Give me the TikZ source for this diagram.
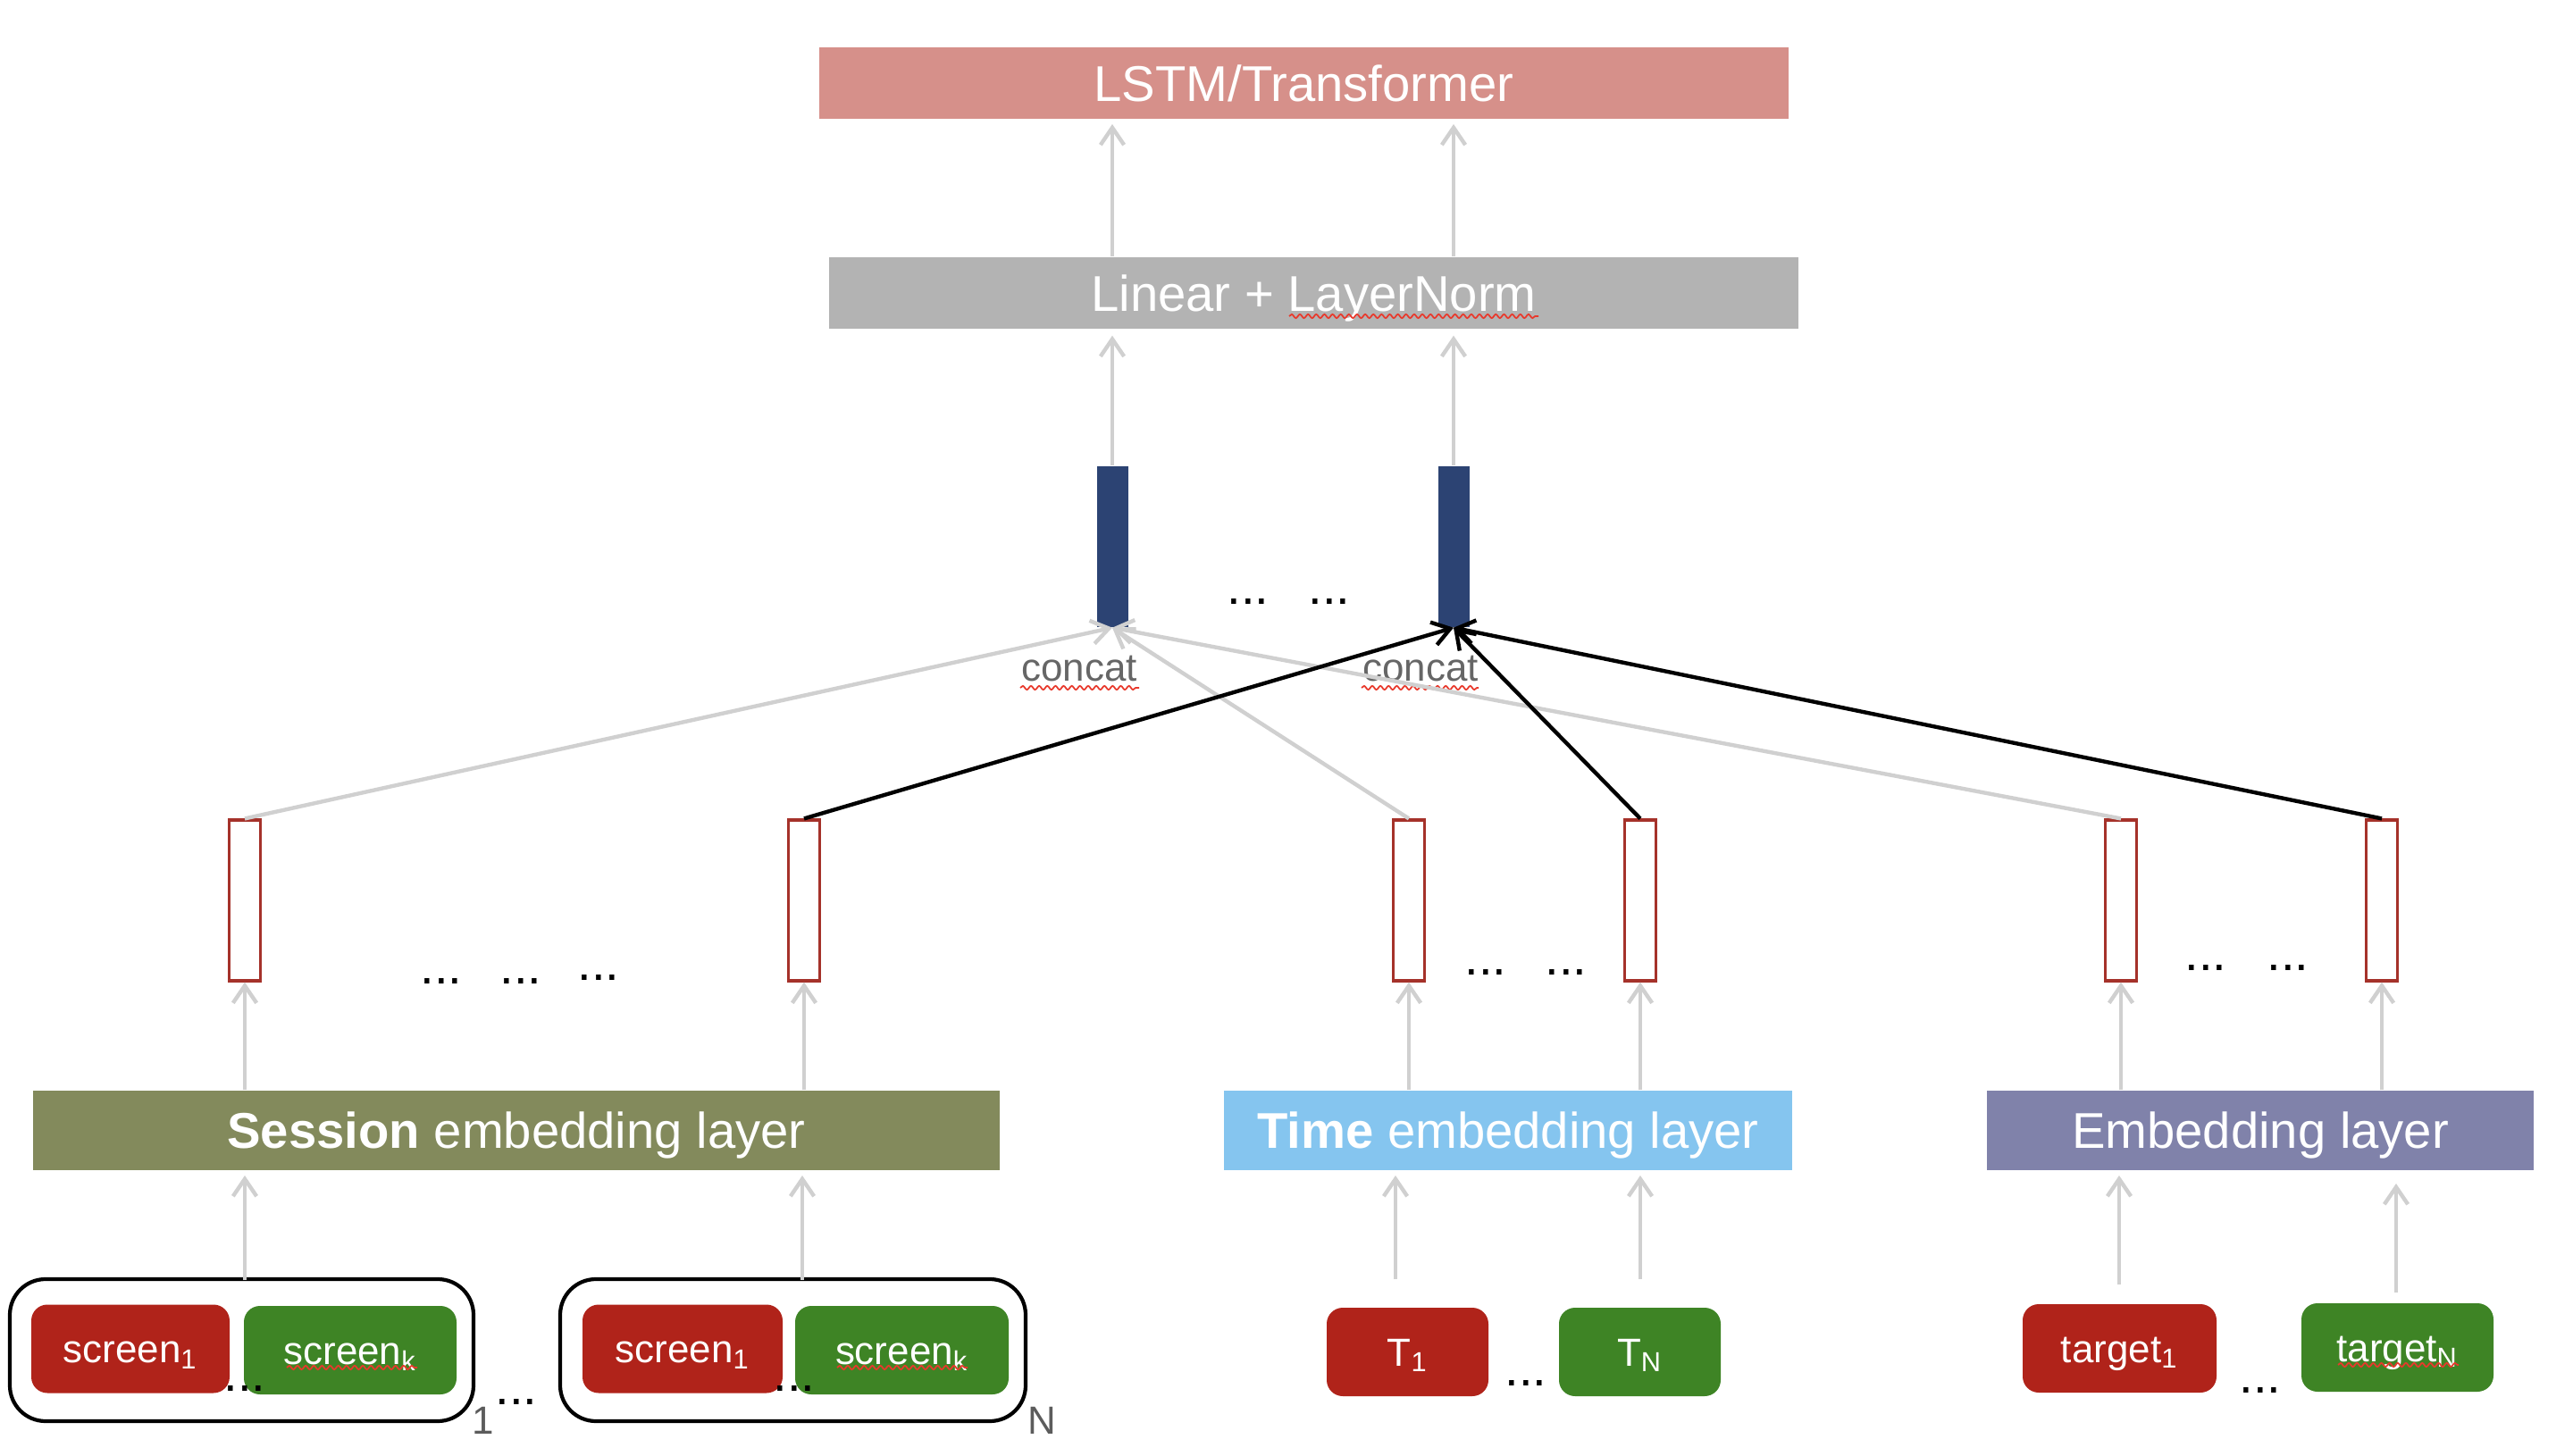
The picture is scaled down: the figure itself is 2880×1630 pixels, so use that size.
\documentclass[tikz,border=0pt]{standalone}
\usepackage{fontspec}
\setmainfont{Liberation Sans}
\usetikzlibrary{arrows.meta,decorations.pathmorphing}
\definecolor{lstmc}{HTML}{D6908A}
\definecolor{linc}{HTML}{B3B3B3}
\definecolor{navyc}{HTML}{2C4373}
\definecolor{rectc}{HTML}{A5322A}
\definecolor{sessc}{HTML}{838A5C}
\definecolor{timec}{HTML}{85C5EF}
\definecolor{embc}{HTML}{8082AA}
\definecolor{redc}{HTML}{B0231A}
\definecolor{greenc}{HTML}{3E8425}
\definecolor{arrg}{HTML}{D0D0D0}
\definecolor{txtg}{HTML}{666666}
\definecolor{squigc}{HTML}{E8392C}
\begin{document}
\begin{tikzpicture}[x=0.1mm,y=-0.1mm,
  blk/.style={inner sep=0pt, text=white, font=\fontsize{16}{19}\selectfont, text height=11.5pt, text depth=0pt},
  tok/.style={rounded corners=1.8mm, inner sep=0pt, text=white, font=\fontsize{12.5}{15}\selectfont, minimum height=9.9mm, text height=8.95pt, text depth=0pt},
  grp/.style={draw=black, line width=1.2pt, rounded corners=4mm, inner sep=0pt, minimum height=15.9mm},
  vecbox/.style={draw=rectc, line width=0.9pt, fill=white, minimum width=3.5mm, minimum height=18mm, inner sep=0pt},
  barbox/.style={fill=navyc, minimum width=3.5mm, minimum height=18mm, inner sep=0pt},
  garr/.style={draw=arrg, line width=1.25pt, -{Straight Barb[length=5.5pt,width=7.5pt]}},
  barr/.style={draw=black, line width=1.25pt, -{Straight Barb[length=5.5pt,width=7.5pt]}},
  dots/.style={anchor=base, inner sep=0pt, font=\fontsize{16}{19}\selectfont},
  glabel/.style={inner sep=0pt, text=txtg, font=\fontsize{12.5}{15}\selectfont},
  squig/.style={draw=squigc, line width=0.5pt, decorate, decoration={snake, segment length=2.6pt, amplitude=0.6pt}}
]
\useasboundingbox (0,0) rectangle (2880,1630);

% top blocks
\node[blk, fill=lstmc, minimum width=108.5mm, minimum height=8mm] (lstm) at (1459.5,93) {LSTM/Transformer};
\node[blk, fill=linc, minimum width=108.5mm, minimum height=8mm] (lin) at (1470.5,328) {Linear + LayerNorm};

% concat vectors
\node[barbox] (bar1) at (1245,612) {};
\node[barbox] (bar2) at (1627,612) {};

% embedding vectors
\node[vecbox] (r1) at (274,1008) {};
\node[vecbox] (r2) at (900,1008) {};
\node[vecbox] (r3) at (1577,1008) {};
\node[vecbox] (r4) at (1836,1008) {};
\node[vecbox] (r5) at (2374,1008) {};
\node[vecbox] (r6) at (2666,1008) {};

% layers
\node[blk, fill=sessc, minimum width=108.2mm, minimum height=8.9mm] (sess) at (578,1265.5) {\textbf{Session} embedding layer};
\node[blk, fill=timec, minimum width=63.6mm, minimum height=8.9mm] (time) at (1688,1265.5) {\textbf{Time} embedding layer};
\node[blk, fill=embc, minimum width=61.2mm, minimum height=8.9mm] (emb) at (2530,1265.5) {Embedding layer};

% input groups
\node[grp, minimum width=51.9mm] (grpA) at (270.5,1511.5) {};
\node[grp, minimum width=52.1mm] (grpB) at (887.5,1511.5) {};
\node[tok, fill=redc, minimum width=22.2mm] (sa1) at (146,1510) {screen\textsubscript{1}};
\node[tok, fill=greenc, minimum width=23.8mm] (sak) at (392,1511.5) {screen\textsubscript{k}};
\node[tok, fill=redc, minimum width=22.4mm] (sb1) at (764,1510) {screen\textsubscript{1}};
\node[tok, fill=greenc, minimum width=23.9mm] (sbk) at (1009.5,1511.5) {screen\textsubscript{k}};
\node[tok, fill=redc, minimum width=18.1mm] (t1) at (1575.5,1513.5) {T\textsubscript{1}};
\node[tok, fill=greenc, minimum width=18.1mm] (tn) at (1835.5,1513.5) {T\textsubscript{N}};
\node[tok, fill=redc, minimum width=21.7mm] (g1) at (2372.5,1509.5) {target\textsubscript{1}};
\node[tok, fill=greenc, minimum width=21.5mm] (gn) at (2683.5,1508.5) {target\textsubscript{N}};

% labels
\node[glabel] (cc1) at (1208,749) {concat};
\node[glabel] (cc2) at (1590,749) {concat};
\node[glabel, text=txtg!90!black] (lab1) at (541,1590) {1};
\node[glabel, text=txtg!90!black] (labN) at (1166,1590) {N};

% dots
\node[dots] (d1) at (1397,677) {...};
\node[dots] (d2) at (1488,677) {...};
\node[dots] (d3) at (494,1101) {...};
\node[dots] (d4) at (583,1101) {...};
\node[dots] (d5) at (670,1097) {...};
\node[dots] (d6) at (1663,1091) {...};
\node[dots] (d7) at (1753,1091) {...};
\node[dots] (d8) at (2469,1086) {...};
\node[dots] (d9) at (2561,1086) {...};
\node[dots] (d10) at (274,1557) {...};
\node[dots] (d11) at (889,1557) {...};
\node[dots] (d12) at (578,1572) {...};
\node[dots] (d13) at (1708,1551) {...};
\node[dots] (d14) at (2530,1559) {...};

% squiggly underlines
\draw[squig] (1443,354) -- (1722,354);
\draw[squig] (1142,770) -- (1275,770);
\draw[squig] (1524,770) -- (1655,770);
\draw[squig] (321,1531) -- (467,1531);
\draw[squig] (937,1531) -- (1083,1531);
\draw[squig] (2617,1528) -- (2752,1528);

% arrows to LSTM and Linear
\draw[garr, shorten >=1.5pt] (lin.north -| bar1) -- (lstm.south -| bar1);
\draw[garr, shorten >=1.5pt] (lin.north -| bar2) -- (lstm.south -| bar2);
\draw[garr, shorten >=2pt] (bar1.north) -- (lin.south -| bar1);
\draw[garr, shorten >=2pt] (bar2.north) -- (lin.south -| bar2);

% concat connectors
\draw[garr] (r1.north) -- (bar1.south);
\draw[garr] (r3.north) -- (bar1.south);
\draw[garr] (r5.north) -- (bar1.south);
\draw[barr] (r2.north) -- (bar2.south);
\draw[barr] (r4.north) -- (bar2.south);
\draw[barr] (r6.north) -- (bar2.south);

% layers to vectors
\draw[garr] (sess.north -| r1) -- (r1.south);
\draw[garr] (sess.north -| r2) -- (r2.south);
\draw[garr] (time.north -| r3) -- (r3.south);
\draw[garr] (time.north -| r4) -- (r4.south);
\draw[garr] (emb.north -| r5) -- (r5.south);
\draw[garr] (emb.north -| r6) -- (r6.south);

% inputs to layers
\coordinate (i1) at (274,1433);
\coordinate (i2) at (898,1433);
\coordinate (i3) at (1562,1432);
\coordinate (i4) at (1836,1432);
\coordinate (i5) at (2372,1438);
\coordinate (i6) at (2682,1447);
\coordinate (i6t) at (2682,1325);
\draw[garr, shorten >=1.5pt] (i1) -- (i1 |- sess.south);
\draw[garr, shorten >=1.5pt] (i2) -- (i2 |- sess.south);
\draw[garr, shorten >=1.5pt] (i3) -- (i3 |- time.south);
\draw[garr, shorten >=1.5pt] (i4) -- (i4 |- time.south);
\draw[garr, shorten >=1.5pt] (i5) -- (i5 |- emb.south);
\draw[garr] (i6) -- (i6t);
\end{tikzpicture}
\end{document}
